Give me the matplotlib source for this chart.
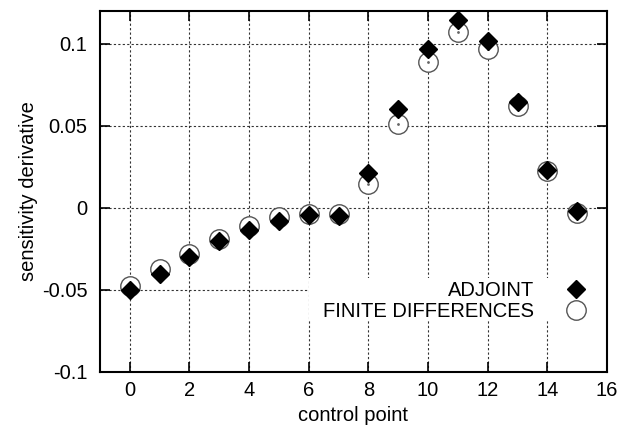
import numpy as np
import matplotlib
matplotlib.use("Agg")
import matplotlib.pyplot as plt
import matplotlib.ticker as mticker
from matplotlib.patches import Rectangle

plt.rcParams.update({
    "font.family": ["Liberation Sans", "DejaVu Sans"],
    "font.size": 14.5,
    "axes.unicode_minus": False,
})

# ── Data ──────────────────────────────────────────────────────────────────────
control_point = np.arange(16)
adjoint = [-0.050, -0.040, -0.030, -0.0205, -0.0135, -0.008, -0.0045, -0.0048,
           0.0215, 0.060, 0.097, 0.1146, 0.1014, 0.0645, 0.0232, -0.0018]
finite_diff = [-0.0478, -0.0375, -0.028, -0.019, -0.011, -0.0055, -0.0035, -0.0035,
               0.0148, 0.051, 0.0886, 0.1069, 0.0968, 0.0622, 0.0222, -0.0029]

x_ticks = [0, 2, 4, 6, 8, 10, 12, 14, 16]
y_ticks = [-0.1, -0.05, 0, 0.05, 0.1]

# ── Figure ────────────────────────────────────────────────────────────────────
fig = plt.figure(figsize=(6.2, 4.34), dpi=100)
ax = fig.add_axes([0.1613, 0.1429, 0.8177, 0.832])

ax.plot(control_point, finite_diff, linestyle="none", marker="o", markersize=14,
        markerfacecolor="white", markeredgecolor="#555555", markeredgewidth=1.0,
        label="FINITE DIFFERENCES", zorder=3)
ax.plot(control_point, finite_diff, linestyle="none", marker="o", markersize=1.0,
        color="#666666", zorder=3)
ax.plot(control_point, adjoint, linestyle="none", marker="D", markersize=8.8,
        color="black", label="ADJOINT", zorder=4)

ax.set_xlim(-1, 16)
ax.set_ylim(-0.1, 0.12)
ax.set_xticks(x_ticks)
ax.set_yticks(y_ticks)
ax.yaxis.set_major_formatter(mticker.FormatStrFormatter("%g"))

ax.grid(True, color="#333333", linestyle=(0, (2, 2)), linewidth=0.8)
ax.set_axisbelow(True)
ax.tick_params(axis="both", direction="in", length=7, width=1.2, top=True, right=True,
               labelsize=14.5)
ax.tick_params(axis="x", pad=6.5)
ax.tick_params(axis="y", pad=9)
for sp in ax.spines.values():
    sp.set_linewidth(1.5)

ax.set_xlabel("control point", fontsize=14.5, labelpad=4)
ax.set_ylabel("sensitivity derivative", fontsize=14.5, labelpad=3)

# key area blanks the grid behind it
ax.add_patch(Rectangle((0.412, 0.144), 0.588, 0.116, transform=ax.transAxes,
                       facecolor="white", edgecolor="none", zorder=1))

handles, labels = ax.get_legend_handles_labels()
leg = ax.legend(handles[::-1], labels[::-1], loc="upper right",
                bbox_to_anchor=(1.0, 0.251), borderaxespad=0, borderpad=0,
                markerfirst=False, frameon=False, fontsize=14.5,
                handlelength=3.1, handletextpad=0.5, labelspacing=0.1)
leg.set_zorder(5)

fig.savefig("out.png", dpi=100)
